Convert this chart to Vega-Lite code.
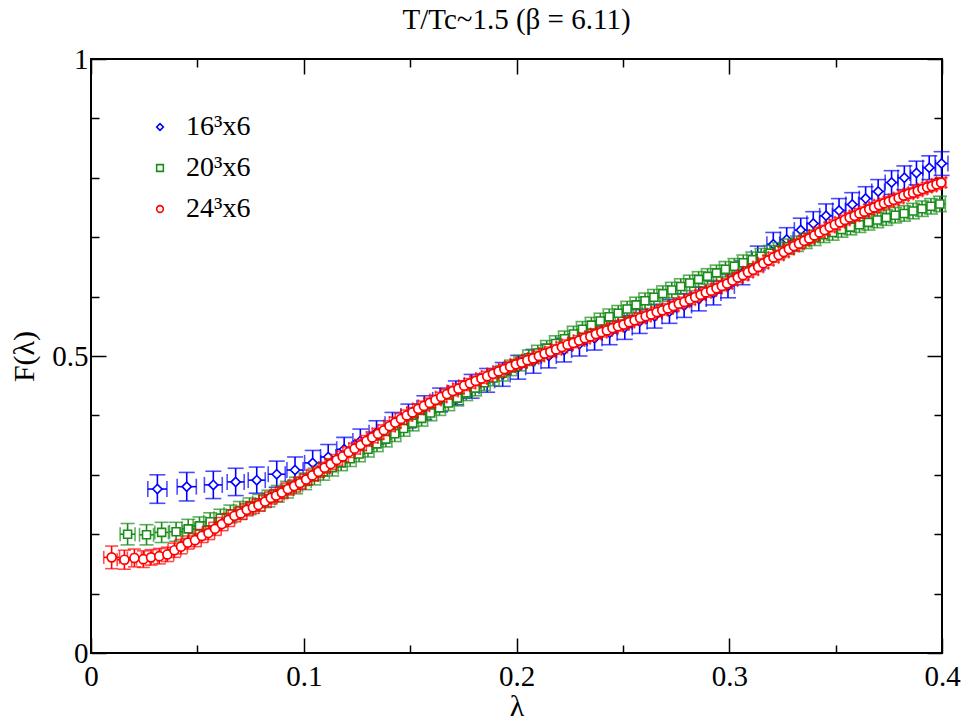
{
"$schema": "https://vega.github.io/schema/vega-lite/v6.json",
"width": 851, "height": 594,
"autosize": {"type": "none"},
"padding": {"left": 91, "top": 59, "right": 22, "bottom": 69},
"title": {"text": "T/Tc~1.5 (β = 6.11)", "font": "Liberation Serif", "fontSize": 29, "fontWeight": "normal", "color": "black", "offset": 10, "anchor": "middle"},
"config": {
 "font": "Liberation Serif",
 "view": {"stroke": "black", "strokeWidth": 2},
 "axis": {"domain": false, "grid": false, "tickColor": "black", "tickWidth": 1.5, "labelFont": "Liberation Serif", "labelFontSize": 29, "labelColor": "black", "titleFont": "Liberation Serif", "titleFontWeight": "normal", "titleColor": "black", "titleFontSize": 30}
},
"datasets": {
"blue": [
{"x":0.0312,"y":0.276,"ex":0.0045,"ey":0.024},{"x":0.0450,"y":0.280,"ex":0.0045,"ey":0.024},{"x":0.0575,"y":0.283,"ex":0.0042,"ey":0.023},{"x":0.0680,"y":0.288,"ex":0.004,"ey":0.023},{"x":0.0779,"y":0.291,"ex":0.004,"ey":0.022},{"x":0.0873,"y":0.301,"ex":0.004,"ey":0.022},{"x":0.0959,"y":0.308,"ex":0.0038,"ey":0.022},{"x":0.1042,"y":0.320,"ex":0.0038,"ey":0.021},{"x":0.1115,"y":0.330,"ex":0.0036,"ey":0.021},
{"x":0.1190,"y":0.343,"ex":0.0035,"ey":0.02},{"x":0.1266,"y":0.357,"ex":0.0035,"ey":0.02},{"x":0.1342,"y":0.371,"ex":0.0035,"ey":0.02},{"x":0.1417,"y":0.385,"ex":0.0035,"ey":0.02},{"x":0.1492,"y":0.399,"ex":0.0035,"ey":0.02},{"x":0.1567,"y":0.413,"ex":0.0035,"ey":0.02},{"x":0.1641,"y":0.426,"ex":0.0035,"ey":0.02},{"x":0.1715,"y":0.438,"ex":0.0035,"ey":0.02},{"x":0.1789,"y":0.449,"ex":0.0035,"ey":0.02},{"x":0.1862,"y":0.459,"ex":0.0035,"ey":0.02},{"x":0.1935,"y":0.469,"ex":0.0035,"ey":0.02},{"x":0.2008,"y":0.481,"ex":0.0035,"ey":0.02},{"x":0.2080,"y":0.491,"ex":0.0035,"ey":0.02},{"x":0.2152,"y":0.500,"ex":0.0035,"ey":0.02},{"x":0.2224,"y":0.510,"ex":0.0035,"ey":0.02},{"x":0.2296,"y":0.520,"ex":0.0035,"ey":0.02},{"x":0.2367,"y":0.530,"ex":0.0035,"ey":0.02},{"x":0.2438,"y":0.539,"ex":0.0035,"ey":0.02},{"x":0.2509,"y":0.548,"ex":0.0035,"ey":0.02},{"x":0.2579,"y":0.558,"ex":0.0035,"ey":0.02},{"x":0.2649,"y":0.567,"ex":0.0035,"ey":0.02},{"x":0.2719,"y":0.575,"ex":0.0035,"ey":0.02},{"x":0.2788,"y":0.585,"ex":0.0035,"ey":0.02},{"x":0.2857,"y":0.596,"ex":0.0035,"ey":0.02},{"x":0.2926,"y":0.606,"ex":0.0035,"ey":0.02},{"x":0.2994,"y":0.618,"ex":0.003,"ey":0.02},{"x":0.3062,"y":0.640,"ex":0.003,"ey":0.02},{"x":0.3134,"y":0.665,"ex":0.003,"ey":0.02},{"x":0.3207,"y":0.688,"ex":0.003,"ey":0.02},{"x":0.3270,"y":0.696,"ex":0.003,"ey":0.02},{"x":0.3336,"y":0.712,"ex":0.003,"ey":0.02},{"x":0.3395,"y":0.723,"ex":0.003,"ey":0.02},{"x":0.3455,"y":0.736,"ex":0.003,"ey":0.02},{"x":0.3516,"y":0.745,"ex":0.003,"ey":0.02},{"x":0.3578,"y":0.755,"ex":0.003,"ey":0.02},{"x":0.3641,"y":0.765,"ex":0.003,"ey":0.02},{"x":0.3700,"y":0.777,"ex":0.003,"ey":0.02},{"x":0.3763,"y":0.792,"ex":0.003,"ey":0.02},{"x":0.3823,"y":0.800,"ex":0.003,"ey":0.02},{"x":0.3880,"y":0.808,"ex":0.003,"ey":0.02},{"x":0.3940,"y":0.817,"ex":0.003,"ey":0.02},{"x":0.3998,"y":0.824,"ex":0.003,"ey":0.02}
],
"green": [
{"x":0.0172,"y":0.200,"ex":0.0035,"ey":0.018},{"x":0.0261,"y":0.199,"ex":0.0033,"ey":0.017},{"x":0.0332,"y":0.203,"ex":0.0032,"ey":0.017},{"x":0.0400,"y":0.204,"ex":0.0031,"ey":0.016},{"x":0.0457,"y":0.209,"ex":0.003,"ey":0.016},
{"x":0.0510,"y":0.214,"ex":0.003,"ey":0.015},{"x":0.0560,"y":0.221,"ex":0.003,"ey":0.015},{"x":0.0608,"y":0.227,"ex":0.003,"ey":0.015},{"x":0.0655,"y":0.234,"ex":0.003,"ey":0.015},{"x":0.0700,"y":0.240,"ex":0.003,"ey":0.015},{"x":0.0745,"y":0.247,"ex":0.003,"ey":0.014},{"x":0.0790,"y":0.253,"ex":0.003,"ey":0.014},{"x":0.0834,"y":0.260,"ex":0.003,"ey":0.014},{"x":0.0878,"y":0.268,"ex":0.003,"ey":0.014},{"x":0.0921,"y":0.275,"ex":0.003,"ey":0.014},{"x":0.0964,"y":0.282,"ex":0.003,"ey":0.014},{"x":0.1007,"y":0.289,"ex":0.0028,"ey":0.014},{"x":0.1050,"y":0.297,"ex":0.0028,"ey":0.014},{"x":0.1092,"y":0.305,"ex":0.0028,"ey":0.014},{"x":0.1134,"y":0.312,"ex":0.0028,"ey":0.014},{"x":0.1176,"y":0.320,"ex":0.0028,"ey":0.013},{"x":0.1218,"y":0.327,"ex":0.0028,"ey":0.013},{"x":0.1260,"y":0.335,"ex":0.0028,"ey":0.013},{"x":0.1302,"y":0.343,"ex":0.0028,"ey":0.013},{"x":0.1344,"y":0.352,"ex":0.0028,"ey":0.013},{"x":0.1386,"y":0.360,"ex":0.0028,"ey":0.013},{"x":0.1428,"y":0.369,"ex":0.0028,"ey":0.013},{"x":0.1470,"y":0.378,"ex":0.0028,"ey":0.013},{"x":0.1512,"y":0.387,"ex":0.0028,"ey":0.013},{"x":0.1554,"y":0.395,"ex":0.0028,"ey":0.013},{"x":0.1596,"y":0.404,"ex":0.0028,"ey":0.013},{"x":0.1638,"y":0.413,"ex":0.0028,"ey":0.013},{"x":0.1680,"y":0.421,"ex":0.0028,"ey":0.013},{"x":0.1722,"y":0.429,"ex":0.0028,"ey":0.013},{"x":0.1764,"y":0.438,"ex":0.0028,"ey":0.013},{"x":0.1806,"y":0.446,"ex":0.0028,"ey":0.013},{"x":0.1848,"y":0.455,"ex":0.0028,"ey":0.013},{"x":0.1890,"y":0.463,"ex":0.0028,"ey":0.013},{"x":0.1932,"y":0.471,"ex":0.0028,"ey":0.013},{"x":0.1974,"y":0.480,"ex":0.0028,"ey":0.013},{"x":0.2016,"y":0.488,"ex":0.0028,"ey":0.013},{"x":0.2058,"y":0.497,"ex":0.0028,"ey":0.013},{"x":0.2100,"y":0.505,"ex":0.0028,"ey":0.013},{"x":0.2142,"y":0.513,"ex":0.0028,"ey":0.013},{"x":0.2184,"y":0.521,"ex":0.0028,"ey":0.013},{"x":0.2226,"y":0.529,"ex":0.0028,"ey":0.013},{"x":0.2268,"y":0.537,"ex":0.0028,"ey":0.013},{"x":0.2310,"y":0.545,"ex":0.0028,"ey":0.013},{"x":0.2352,"y":0.552,"ex":0.0028,"ey":0.013},{"x":0.2394,"y":0.559,"ex":0.0028,"ey":0.013},{"x":0.2436,"y":0.566,"ex":0.0028,"ey":0.013},{"x":0.2478,"y":0.572,"ex":0.0028,"ey":0.013},{"x":0.2520,"y":0.579,"ex":0.0028,"ey":0.013},{"x":0.2562,"y":0.586,"ex":0.0028,"ey":0.013},{"x":0.2604,"y":0.593,"ex":0.0028,"ey":0.013},{"x":0.2646,"y":0.599,"ex":0.0028,"ey":0.013},{"x":0.2688,"y":0.605,"ex":0.0028,"ey":0.013},{"x":0.2730,"y":0.611,"ex":0.0028,"ey":0.013},{"x":0.2772,"y":0.617,"ex":0.0028,"ey":0.013},{"x":0.2814,"y":0.623,"ex":0.0028,"ey":0.013},{"x":0.2856,"y":0.629,"ex":0.0028,"ey":0.013},{"x":0.2898,"y":0.634,"ex":0.0028,"ey":0.013},{"x":0.2940,"y":0.640,"ex":0.0028,"ey":0.013},{"x":0.2982,"y":0.646,"ex":0.0028,"ey":0.013},{"x":0.3024,"y":0.651,"ex":0.0026,"ey":0.013},{"x":0.3066,"y":0.657,"ex":0.0026,"ey":0.013},{"x":0.3108,"y":0.662,"ex":0.0026,"ey":0.013},{"x":0.3150,"y":0.668,"ex":0.0026,"ey":0.013},{"x":0.3192,"y":0.673,"ex":0.0026,"ey":0.013},{"x":0.3234,"y":0.678,"ex":0.0026,"ey":0.013},{"x":0.3276,"y":0.684,"ex":0.0026,"ey":0.013},{"x":0.3318,"y":0.689,"ex":0.0026,"ey":0.013},{"x":0.3360,"y":0.694,"ex":0.0026,"ey":0.013},{"x":0.3402,"y":0.699,"ex":0.0026,"ey":0.013},{"x":0.3444,"y":0.704,"ex":0.0026,"ey":0.013},{"x":0.3486,"y":0.708,"ex":0.0026,"ey":0.013},{"x":0.3528,"y":0.713,"ex":0.0026,"ey":0.013},{"x":0.3570,"y":0.717,"ex":0.0026,"ey":0.013},{"x":0.3612,"y":0.721,"ex":0.0026,"ey":0.013},{"x":0.3654,"y":0.725,"ex":0.0026,"ey":0.013},{"x":0.3696,"y":0.729,"ex":0.0026,"ey":0.013},{"x":0.3738,"y":0.733,"ex":0.0026,"ey":0.013},{"x":0.3780,"y":0.737,"ex":0.0026,"ey":0.013},{"x":0.3822,"y":0.740,"ex":0.0026,"ey":0.013},{"x":0.3864,"y":0.744,"ex":0.0026,"ey":0.013},{"x":0.3906,"y":0.748,"ex":0.0026,"ey":0.013},{"x":0.3948,"y":0.752,"ex":0.0026,"ey":0.013},{"x":0.3990,"y":0.756,"ex":0.0026,"ey":0.013}
],
"red": [
{"x":0.0097,"y":0.161,"ex":0.0037,"ey":0.019},{"x":0.0157,"y":0.157,"ex":0.0034,"ey":0.016},{"x":0.0204,"y":0.160,"ex":0.0033,"ey":0.015},{"x":0.0246,"y":0.158,"ex":0.0032,"ey":0.014},{"x":0.0282,"y":0.161,"ex":0.0031,"ey":0.013},{"x":0.0321,"y":0.163,"ex":0.003,"ey":0.013},{"x":0.0359,"y":0.166,"ex":0.003,"ey":0.012},{"x":0.0392,"y":0.173,"ex":0.003,"ey":0.012},{"x":0.0423,"y":0.179,"ex":0.003,"ey":0.012},{"x":0.0455,"y":0.186,"ex":0.003,"ey":0.011},
{"x":0.0489,"y":0.190,"ex":0.0029,"ey":0.011},{"x":0.0521,"y":0.197,"ex":0.0029,"ey":0.011},{"x":0.0552,"y":0.202,"ex":0.0029,"ey":0.011},{"x":0.0583,"y":0.209,"ex":0.0029,"ey":0.011},{"x":0.0615,"y":0.217,"ex":0.0029,"ey":0.011},{"x":0.0646,"y":0.224,"ex":0.0029,"ey":0.011},{"x":0.0674,"y":0.231,"ex":0.0029,"ey":0.01},{"x":0.0704,"y":0.235,"ex":0.0029,"ey":0.01},{"x":0.0732,"y":0.241,"ex":0.0029,"ey":0.01},{"x":0.0761,"y":0.245,"ex":0.0029,"ey":0.01},{"x":0.0787,"y":0.249,"ex":0.0029,"ey":0.01},{"x":0.0818,"y":0.255,"ex":0.0029,"ey":0.01},{"x":0.0845,"y":0.261,"ex":0.0029,"ey":0.01},{"x":0.0870,"y":0.265,"ex":0.0029,"ey":0.01},{"x":0.0897,"y":0.270,"ex":0.0029,"ey":0.01},{"x":0.0925,"y":0.276,"ex":0.0029,"ey":0.01},{"x":0.0955,"y":0.281,"ex":0.0029,"ey":0.01},{"x":0.0982,"y":0.286,"ex":0.0029,"ey":0.01},
{"x":0.1011,"y":0.292,"ex":0.0027,"ey":0.009},{"x":0.1040,"y":0.299,"ex":0.0027,"ey":0.009},{"x":0.1069,"y":0.305,"ex":0.0027,"ey":0.009},{"x":0.1098,"y":0.312,"ex":0.0027,"ey":0.009},{"x":0.1127,"y":0.318,"ex":0.0027,"ey":0.009},{"x":0.1155,"y":0.325,"ex":0.0027,"ey":0.009},{"x":0.1183,"y":0.331,"ex":0.0027,"ey":0.009},{"x":0.1211,"y":0.338,"ex":0.0027,"ey":0.009},{"x":0.1239,"y":0.344,"ex":0.0027,"ey":0.009},{"x":0.1267,"y":0.350,"ex":0.0027,"ey":0.009},{"x":0.1295,"y":0.357,"ex":0.0027,"ey":0.009},{"x":0.1322,"y":0.363,"ex":0.0027,"ey":0.009},{"x":0.1349,"y":0.369,"ex":0.0027,"ey":0.009},{"x":0.1376,"y":0.375,"ex":0.0027,"ey":0.009},{"x":0.1403,"y":0.382,"ex":0.0027,"ey":0.009},{"x":0.1430,"y":0.388,"ex":0.0027,"ey":0.009},{"x":0.1457,"y":0.394,"ex":0.0027,"ey":0.009},{"x":0.1484,"y":0.400,"ex":0.0027,"ey":0.009},{"x":0.1511,"y":0.405,"ex":0.0026,"ey":0.008},{"x":0.1538,"y":0.411,"ex":0.0026,"ey":0.008},{"x":0.1565,"y":0.416,"ex":0.0026,"ey":0.008},{"x":0.1592,"y":0.421,"ex":0.0026,"ey":0.008},{"x":0.1619,"y":0.426,"ex":0.0026,"ey":0.008},{"x":0.1646,"y":0.431,"ex":0.0026,"ey":0.008},{"x":0.1673,"y":0.436,"ex":0.0026,"ey":0.008},{"x":0.1700,"y":0.441,"ex":0.0026,"ey":0.008},{"x":0.1727,"y":0.445,"ex":0.0026,"ey":0.008},{"x":0.1754,"y":0.450,"ex":0.0026,"ey":0.008},{"x":0.1781,"y":0.454,"ex":0.0026,"ey":0.008},{"x":0.1808,"y":0.458,"ex":0.0026,"ey":0.008},{"x":0.1835,"y":0.462,"ex":0.0026,"ey":0.008},{"x":0.1862,"y":0.466,"ex":0.0026,"ey":0.008},{"x":0.1889,"y":0.470,"ex":0.0026,"ey":0.008},{"x":0.1916,"y":0.474,"ex":0.0026,"ey":0.008},{"x":0.1943,"y":0.478,"ex":0.0026,"ey":0.008},{"x":0.1970,"y":0.482,"ex":0.0026,"ey":0.008},{"x":0.1997,"y":0.486,"ex":0.0026,"ey":0.008},{"x":0.2024,"y":0.489,"ex":0.0026,"ey":0.008},{"x":0.2051,"y":0.493,"ex":0.0026,"ey":0.008},{"x":0.2078,"y":0.496,"ex":0.0026,"ey":0.008},{"x":0.2105,"y":0.500,"ex":0.0026,"ey":0.008},{"x":0.2132,"y":0.504,"ex":0.0026,"ey":0.008},{"x":0.2159,"y":0.507,"ex":0.0026,"ey":0.008},{"x":0.2186,"y":0.511,"ex":0.0026,"ey":0.008},{"x":0.2213,"y":0.515,"ex":0.0026,"ey":0.008},{"x":0.2240,"y":0.519,"ex":0.0026,"ey":0.008},{"x":0.2267,"y":0.522,"ex":0.0026,"ey":0.008},{"x":0.2294,"y":0.526,"ex":0.0026,"ey":0.008},{"x":0.2321,"y":0.530,"ex":0.0025,"ey":0.008},{"x":0.2347,"y":0.533,"ex":0.0025,"ey":0.008},{"x":0.2373,"y":0.537,"ex":0.0025,"ey":0.008},{"x":0.2399,"y":0.540,"ex":0.0025,"ey":0.008},{"x":0.2425,"y":0.543,"ex":0.0025,"ey":0.008},{"x":0.2451,"y":0.547,"ex":0.0025,"ey":0.008},{"x":0.2477,"y":0.550,"ex":0.0025,"ey":0.008},{"x":0.2503,"y":0.553,"ex":0.0025,"ey":0.008},{"x":0.2529,"y":0.557,"ex":0.0025,"ey":0.008},{"x":0.2555,"y":0.560,"ex":0.0025,"ey":0.008},{"x":0.2581,"y":0.564,"ex":0.0025,"ey":0.008},{"x":0.2607,"y":0.567,"ex":0.0025,"ey":0.008},{"x":0.2633,"y":0.570,"ex":0.0025,"ey":0.008},{"x":0.2659,"y":0.574,"ex":0.0025,"ey":0.008},{"x":0.2685,"y":0.577,"ex":0.0025,"ey":0.008},{"x":0.2711,"y":0.580,"ex":0.0025,"ey":0.008},{"x":0.2737,"y":0.584,"ex":0.0025,"ey":0.008},{"x":0.2763,"y":0.588,"ex":0.0025,"ey":0.008},{"x":0.2789,"y":0.591,"ex":0.0025,"ey":0.008},{"x":0.2815,"y":0.595,"ex":0.0025,"ey":0.008},{"x":0.2840,"y":0.599,"ex":0.0024,"ey":0.008},{"x":0.2865,"y":0.603,"ex":0.0024,"ey":0.008},{"x":0.2890,"y":0.607,"ex":0.0024,"ey":0.008},{"x":0.2915,"y":0.610,"ex":0.0024,"ey":0.008},{"x":0.2940,"y":0.614,"ex":0.0024,"ey":0.008},{"x":0.2965,"y":0.618,"ex":0.0024,"ey":0.008},{"x":0.2990,"y":0.622,"ex":0.0024,"ey":0.008},{"x":0.3015,"y":0.627,"ex":0.0024,"ey":0.008},{"x":0.3040,"y":0.632,"ex":0.0024,"ey":0.008},{"x":0.3064,"y":0.636,"ex":0.0024,"ey":0.008},{"x":0.3088,"y":0.641,"ex":0.0024,"ey":0.008},{"x":0.3112,"y":0.645,"ex":0.0024,"ey":0.008},{"x":0.3136,"y":0.650,"ex":0.0024,"ey":0.008},{"x":0.3160,"y":0.656,"ex":0.0024,"ey":0.008},{"x":0.3184,"y":0.661,"ex":0.0024,"ey":0.008},{"x":0.3208,"y":0.666,"ex":0.0024,"ey":0.008},{"x":0.3232,"y":0.670,"ex":0.0024,"ey":0.008},{"x":0.3256,"y":0.675,"ex":0.0024,"ey":0.008},{"x":0.3280,"y":0.680,"ex":0.0024,"ey":0.008},{"x":0.3304,"y":0.685,"ex":0.0024,"ey":0.008},{"x":0.3328,"y":0.689,"ex":0.0024,"ey":0.008},{"x":0.3352,"y":0.694,"ex":0.0024,"ey":0.008},{"x":0.3376,"y":0.698,"ex":0.0024,"ey":0.008},{"x":0.3400,"y":0.703,"ex":0.0024,"ey":0.008},{"x":0.3424,"y":0.708,"ex":0.0024,"ey":0.008},{"x":0.3448,"y":0.712,"ex":0.0024,"ey":0.008},{"x":0.3472,"y":0.717,"ex":0.0024,"ey":0.008},{"x":0.3496,"y":0.721,"ex":0.0024,"ey":0.008},{"x":0.3520,"y":0.725,"ex":0.0023,"ey":0.008},{"x":0.3543,"y":0.729,"ex":0.0023,"ey":0.008},{"x":0.3566,"y":0.733,"ex":0.0023,"ey":0.008},{"x":0.3589,"y":0.736,"ex":0.0023,"ey":0.008},{"x":0.3612,"y":0.740,"ex":0.0023,"ey":0.008},{"x":0.3635,"y":0.743,"ex":0.0023,"ey":0.008},{"x":0.3658,"y":0.747,"ex":0.0023,"ey":0.008},{"x":0.3681,"y":0.750,"ex":0.0023,"ey":0.008},{"x":0.3704,"y":0.754,"ex":0.0023,"ey":0.008},{"x":0.3727,"y":0.757,"ex":0.0023,"ey":0.008},{"x":0.3750,"y":0.760,"ex":0.0023,"ey":0.008},{"x":0.3773,"y":0.763,"ex":0.0023,"ey":0.008},{"x":0.3796,"y":0.766,"ex":0.0023,"ey":0.008},{"x":0.3819,"y":0.770,"ex":0.0023,"ey":0.008},{"x":0.3842,"y":0.773,"ex":0.0023,"ey":0.008},{"x":0.3864,"y":0.775,"ex":0.0022,"ey":0.008},{"x":0.3886,"y":0.778,"ex":0.0022,"ey":0.008},{"x":0.3908,"y":0.781,"ex":0.0022,"ey":0.008},{"x":0.3930,"y":0.784,"ex":0.0022,"ey":0.008},{"x":0.3952,"y":0.786,"ex":0.0022,"ey":0.008},{"x":0.3974,"y":0.789,"ex":0.0022,"ey":0.008},{"x":0.3996,"y":0.792,"ex":0.0022,"ey":0.008}
]
},
"resolve": {"axis": {"x": "independent", "y": "independent"}},
"layer": [
 {"data": {"name": "blue"}, "mark": {"type": "errorbar", "color": "#0000ff", "thickness": 1.6, "ticks": {"size": 16, "thickness": 1.6, "color": "#0000ff"}},
  "encoding": {"x": {"field": "x", "type": "quantitative", "scale": {"domain": [0, 0.4], "nice": false}, "axis": null}, "y": {"field": "y", "type": "quantitative", "scale": {"domain": [0, 1], "nice": false}, "axis": null}, "yError": {"field": "ey"}}},
 {"data": {"name": "blue"}, "mark": {"type": "errorbar", "color": "#0000ff", "thickness": 1.6, "ticks": {"size": 16, "thickness": 1.6, "color": "#0000ff"}},
  "encoding": {"x": {"field": "x", "type": "quantitative", "scale": {"domain": [0, 0.4], "nice": false}, "axis": null}, "xError": {"field": "ex"}, "y": {"field": "y", "type": "quantitative", "scale": {"domain": [0, 1], "nice": false}, "axis": null}}},
 {"data": {"name": "blue"}, "mark": {"type": "point", "fill": "white", "fillOpacity": 1, "opacity": 1, "strokeWidth": 1.6, "size": 85},
  "encoding": {
   "x": {"field": "x", "type": "quantitative", "scale": {"domain": [0, 0.4], "nice": false}, "title": "λ",
     "axis": {"orient": "bottom", "values": [0, 0.05, 0.1, 0.15, 0.2, 0.25, 0.3, 0.35, 0.4], "labelExpr": "abs(datum.value*10 - round(datum.value*10)) < 0.001 ? format(datum.value, '~g') : ''", "tickSize": {"condition": {"test": "abs(datum.value*10 - round(datum.value*10)) < 0.001", "value": -15}, "value": -8}, "labelPadding": 24, "titlePadding": 0, "labelFlush": false}},
   "y": {"field": "y", "type": "quantitative", "scale": {"domain": [0, 1], "nice": false}, "title": "F(λ)",
     "axis": {"orient": "left", "values": [0, 0.1, 0.2, 0.3, 0.4, 0.5, 0.6, 0.7, 0.8, 0.9, 1], "labelExpr": "abs(datum.value*2 - round(datum.value*2)) < 0.001 ? format(datum.value, '~g') : ''", "tickSize": {"condition": {"test": "abs(datum.value*2 - round(datum.value*2)) < 0.001", "value": -15}, "value": -8}, "labelPadding": 18, "titlePadding": 12, "labelFlush": false}},
   "stroke": {"datum": "16³x6", "type": "nominal", "scale": {"domain": ["16³x6", "20³x6", "24³x6"], "range": ["#0000ff", "#1a8c1a", "#ff0000"]},
     "legend": {"orient": "none", "legendX": 55, "legendY": 54, "title": null, "padding": 0, "labelFont": "Liberation Serif", "labelFontSize": 28, "labelColor": "black", "symbolSize": 45, "symbolStrokeWidth": 1.6, "symbolFillColor": "white", "labelOffset": 12, "rowPadding": 13}},
   "shape": {"datum": "16³x6", "type": "nominal", "scale": {"domain": ["16³x6", "20³x6", "24³x6"], "range": ["diamond", "square", "circle"]},
     "legend": {"orient": "none", "legendX": 55, "legendY": 54, "title": null, "padding": 0, "labelFont": "Liberation Serif", "labelFontSize": 28, "labelColor": "black", "symbolSize": 45, "symbolStrokeWidth": 1.6, "symbolFillColor": "white", "labelOffset": 12, "rowPadding": 13}}
  }},
 {"data": {"name": "green"}, "mark": {"type": "errorbar", "color": "#1a8c1a", "thickness": 1.6, "ticks": {"size": 14, "thickness": 1.6, "color": "#1a8c1a"}},
  "encoding": {"x": {"field": "x", "type": "quantitative", "scale": {"domain": [0, 0.4], "nice": false}, "axis": null}, "y": {"field": "y", "type": "quantitative", "scale": {"domain": [0, 1], "nice": false}, "axis": null}, "yError": {"field": "ey"}}},
 {"data": {"name": "green"}, "mark": {"type": "errorbar", "color": "#1a8c1a", "thickness": 1.6, "ticks": {"size": 14, "thickness": 1.6, "color": "#1a8c1a"}},
  "encoding": {"x": {"field": "x", "type": "quantitative", "scale": {"domain": [0, 0.4], "nice": false}, "axis": null}, "xError": {"field": "ex"}, "y": {"field": "y", "type": "quantitative", "scale": {"domain": [0, 1], "nice": false}, "axis": null}}},
 {"data": {"name": "green"}, "mark": {"type": "point", "fill": "white", "fillOpacity": 1, "opacity": 1, "strokeWidth": 1.6, "size": 64},
  "encoding": {
   "x": {"field": "x", "type": "quantitative", "scale": {"domain": [0, 0.4], "nice": false}, "axis": null},
   "y": {"field": "y", "type": "quantitative", "scale": {"domain": [0, 1], "nice": false}, "axis": null},
   "stroke": {"datum": "20³x6", "type": "nominal", "scale": {"domain": ["16³x6", "20³x6", "24³x6"], "range": ["#0000ff", "#1a8c1a", "#ff0000"]}},
   "shape": {"datum": "20³x6", "type": "nominal", "scale": {"domain": ["16³x6", "20³x6", "24³x6"], "range": ["diamond", "square", "circle"]}}
  }},
 {"data": {"name": "red"}, "mark": {"type": "errorbar", "color": "#ff0000", "thickness": 1.6, "ticks": {"size": 13, "thickness": 1.6, "color": "#ff0000"}},
  "encoding": {"x": {"field": "x", "type": "quantitative", "scale": {"domain": [0, 0.4], "nice": false}, "axis": null}, "y": {"field": "y", "type": "quantitative", "scale": {"domain": [0, 1], "nice": false}, "axis": null}, "yError": {"field": "ey"}}},
 {"data": {"name": "red"}, "mark": {"type": "errorbar", "color": "#ff0000", "thickness": 1.6, "ticks": {"size": 13, "thickness": 1.6, "color": "#ff0000"}},
  "encoding": {"x": {"field": "x", "type": "quantitative", "scale": {"domain": [0, 0.4], "nice": false}, "axis": null}, "xError": {"field": "ex"}, "y": {"field": "y", "type": "quantitative", "scale": {"domain": [0, 1], "nice": false}, "axis": null}}},
 {"data": {"name": "red"}, "mark": {"type": "point", "fill": "white", "fillOpacity": 1, "opacity": 1, "strokeWidth": 1.7, "size": 80},
  "encoding": {
   "x": {"field": "x", "type": "quantitative", "scale": {"domain": [0, 0.4], "nice": false}, "axis": null},
   "y": {"field": "y", "type": "quantitative", "scale": {"domain": [0, 1], "nice": false}, "axis": null},
   "stroke": {"datum": "24³x6", "type": "nominal", "scale": {"domain": ["16³x6", "20³x6", "24³x6"], "range": ["#0000ff", "#1a8c1a", "#ff0000"]}},
   "shape": {"datum": "24³x6", "type": "nominal", "scale": {"domain": ["16³x6", "20³x6", "24³x6"], "range": ["diamond", "square", "circle"]}}
  }},
 {"data": {"name": "red"}, "mark": {"type": "point", "opacity": 0},
  "encoding": {
   "x": {"field": "x", "type": "quantitative", "scale": {"domain": [0, 0.4], "nice": false},
     "axis": {"orient": "top", "title": null, "labels": false, "values": [0, 0.05, 0.1, 0.15, 0.2, 0.25, 0.3, 0.35, 0.4], "tickSize": {"condition": {"test": "abs(datum.value*10 - round(datum.value*10)) < 0.001", "value": -15}, "value": -8}}},
   "y": {"field": "y", "type": "quantitative", "scale": {"domain": [0, 1], "nice": false},
     "axis": {"orient": "right", "title": null, "labels": false, "values": [0, 0.1, 0.2, 0.3, 0.4, 0.5, 0.6, 0.7, 0.8, 0.9, 1], "tickSize": {"condition": {"test": "abs(datum.value*2 - round(datum.value*2)) < 0.001", "value": -15}, "value": -8}}}
  }}
]
}
